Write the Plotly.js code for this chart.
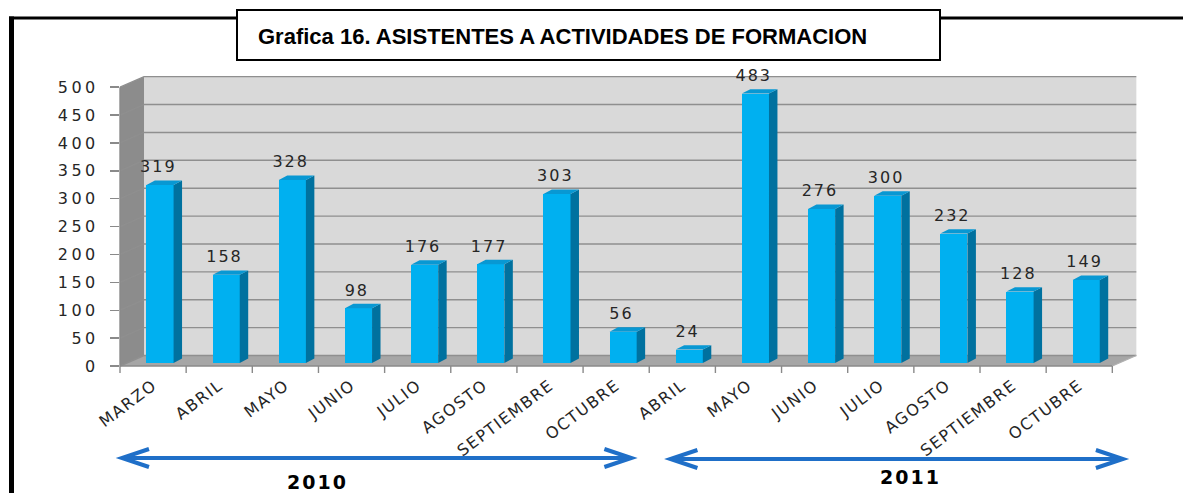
<!DOCTYPE html>
<html>
<head>
<meta charset="utf-8">
<script src="https://cdn.plot.ly/plotly-3.0.1.min.js"></script>
<style>
  html, body { margin: 0; padding: 0; background: #ffffff; }
  #chart { width: 1183px; height: 493px; }
  .ytick text { letter-spacing: 3.5px; }
  .xtick text { letter-spacing: 1.5px; }
  .textpoint text { letter-spacing: 2px; }
  .annotation-text { letter-spacing: 2px; }
</style>
</head>
<body>
<div id="chart"></div>
<script>
// ---- data ----
const categories = ['MARZO','ABRIL','MAYO','JUNIO','JULIO','AGOSTO','SEPTIEMBRE','OCTUBRE',
                    'ABRIL','MAYO','JUNIO','JULIO','AGOSTO','SEPTIEMBRE','OCTUBRE'];
const values = [319, 158, 328, 98, 176, 177, 303, 56, 24, 483, 276, 300, 232, 128, 149];
const yTicks = [0, 50, 100, 150, 200, 250, 300, 350, 400, 450, 500];
const years = ['2010', '2011'];
const chartTitle = 'Grafica 16. ASISTENTES A ACTIVIDADES DE FORMACION';

// ---- geometry (styling of the pseudo-3D frame) ----
const W = 1183, H = 493;
const M = {l: 120, r: 46, t: 76, b: 127};
const plotW = W - M.l - M.r, plotH = H - M.t - M.b;
const n = categories.length;
const DX = 0.363;          // wall depth in category units
const DY = 18.8;           // wall depth in value units
const xr = [-0.5, n - 0.5 + DX + 0.01];
const yr = [0, 520];
const px = d => (d - xr[0]) / (xr[1] - xr[0]);
const py = v => (v - yr[0]) / (yr[1] - yr[0]);
const pxPix = p => (p - M.l) / plotW;           // pixel -> paper (decorations)
const pyPix = p => (H - M.b - p) / plotH;

const BASE = 5.4, BW = 0.41, BOFF = -0.1, SD = 0.128, SE = 8;
const idx = categories.map((c, i) => i);

// side and top faces of the bars
const sideX = [], sideY = [], topX = [], topY = [];
values.forEach((v, i) => {
  const xl = i + BOFF, xrr = i + BOFF + BW;
  sideX.push(xrr, xrr, xrr + SD, xrr + SD, xrr, null);
  sideY.push(BASE, BASE + v, BASE + v + SE, BASE + SE, BASE, null);
  topX.push(xl, xrr, xrr + SD, xl + SD, xl, null);
  topY.push(BASE + v, BASE + v, BASE + v + SE, BASE + v + SE, BASE + v, null);
});

const traces = [
  {type: 'bar', x: idx, y: values, base: BASE, width: BW, offset: BOFF,
   marker: {color: '#00b0f0', line: {width: 0}}, hoverinfo: 'skip', showlegend: false},
  {type: 'scatter', mode: 'lines', x: sideX, y: sideY, fill: 'toself', fillcolor: '#00719f',
   line: {width: 0, color: '#00719f'}, hoverinfo: 'skip', showlegend: false},
  {type: 'scatter', mode: 'lines', x: topX, y: topY, fill: 'toself', fillcolor: '#0898d3',
   line: {width: 0, color: '#0898d3'}, hoverinfo: 'skip', showlegend: false},
  {type: 'scatter', mode: 'text', x: idx.map(i => i + 0.08), y: values.map(v => v + BASE + 30),
   text: values.map(String), textposition: 'middle center', cliponaxis: false,
   textfont: {family: 'DejaVu Sans', size: 16, color: '#262626'},
   hoverinfo: 'skip', showlegend: false}
];

// ---- decorative shapes ----
const shapes = [];
const P = pts => 'M' + pts.map(p => px(p[0]).toFixed(5) + ',' + py(p[1]).toFixed(5)).join('L') + 'Z';
const L = pts => 'M' + pts.map(p => px(p[0]).toFixed(5) + ',' + py(p[1]).toFixed(5)).join('L');
const xEnd = n - 0.5;
// back wall
shapes.push({type: 'path', xref: 'paper', yref: 'paper', layer: 'below',
  path: P([[-0.5 + DX, DY], [xEnd + DX, DY], [xEnd + DX, 500 + DY], [-0.5 + DX, 500 + DY]]),
  fillcolor: '#d9d9d9', line: {width: 0}});
// side wall
shapes.push({type: 'path', xref: 'paper', yref: 'paper', layer: 'below',
  path: P([[-0.5, 0], [-0.5, 500], [-0.5 + DX, 500 + DY], [-0.5 + DX, DY]]),
  fillcolor: '#8c8c8c', line: {width: 0}});
// floor
shapes.push({type: 'path', xref: 'paper', yref: 'paper', layer: 'below',
  path: P([[-0.5, 0], [xEnd, 0], [xEnd + DX, DY], [-0.5 + DX, DY]]),
  fillcolor: '#a6a6a6', line: {width: 0}});
// grid lines (side wall diagonal + back wall horizontal)
yTicks.forEach(t => {
  shapes.push({type: 'path', xref: 'paper', yref: 'paper', layer: 'below',
    path: L([[-0.5, t], [-0.5 + DX, t + DY], [xEnd + DX, t + DY]]),
    line: {color: '#8f8f8f', width: 1.4}});
});
// front axis lines
shapes.push({type: 'line', xref: 'paper', yref: 'paper', layer: 'below',
  x0: px(-0.5), x1: px(-0.5), y0: py(0), y1: py(500), line: {color: '#8a8a8a', width: 1.4}});
shapes.push({type: 'line', xref: 'paper', yref: 'paper', layer: 'below',
  x0: px(-0.5), x1: px(xEnd), y0: py(0), y1: py(0), line: {color: '#8a8a8a', width: 1.4}});
shapes.push({type: 'line', xref: 'paper', yref: 'paper', layer: 'below',
  x0: px(xEnd), x1: px(xEnd + DX), y0: py(0), y1: py(DY), line: {color: '#b0b0b0', width: 1.2}});
// x tick marks at category boundaries
for (let k = 0; k <= n; k++) {
  shapes.push({type: 'line', xref: 'paper', yref: 'paper', layer: 'below',
    x0: px(k - 0.5), x1: px(k - 0.5), y0: py(0), y1: py(0) - 7 / plotH,
    line: {color: '#8a8a8a', width: 1.4}});
}
// outer frame
shapes.push({type: 'line', xref: 'paper', yref: 'paper', layer: 'above',
  x0: pxPix(11.5), x1: pxPix(11.5), y0: pyPix(16.5), y1: pyPix(500), line: {color: '#000', width: 5}});
shapes.push({type: 'line', xref: 'paper', yref: 'paper', layer: 'above',
  x0: pxPix(9), x1: pxPix(1190), y0: pyPix(18), y1: pyPix(18), line: {color: '#000', width: 3}});
// title box
shapes.push({type: 'rect', xref: 'paper', yref: 'paper', layer: 'above',
  x0: pxPix(237), x1: pxPix(940), y0: pyPix(60), y1: pyPix(10),
  fillcolor: '#ffffff', line: {color: '#000', width: 2}});
// year arrows
const arrowColor = '#1f6fc8';
const arrows = [[-0.47, 7.23, 458], [7.82, 14.66, 459]];
arrows.forEach(a => {
  const x0 = px(a[0]), x1 = px(a[1]), y = pyPix(a[2]);
  const hx = 27 / plotW, hy = 9 / plotH;
  shapes.push({type: 'line', xref: 'paper', yref: 'paper', layer: 'above',
    x0: x0 + 0.002, x1: x1 - 0.002, y0: y, y1: y, line: {color: arrowColor, width: 4}});
  shapes.push({type: 'path', xref: 'paper', yref: 'paper', layer: 'above',
    path: `M${x0 + hx},${y + hy}L${x0},${y}L${x0 + hx},${y - hy}`, line: {color: arrowColor, width: 4}});
  shapes.push({type: 'path', xref: 'paper', yref: 'paper', layer: 'above',
    path: `M${x1 - hx},${y + hy}L${x1},${y}L${x1 - hx},${y - hy}`, line: {color: arrowColor, width: 4}});
});

const annotations = [
  {text: years[0], xref: 'paper', yref: 'paper', x: pxPix(317), y: pyPix(482), showarrow: false,
   xanchor: 'center', yanchor: 'middle', font: {family: 'DejaVu Sans', size: 19, color: '#000', weight: 'bold'}},
  {text: years[1], xref: 'paper', yref: 'paper', x: pxPix(910), y: pyPix(477), showarrow: false,
   xanchor: 'center', yanchor: 'middle', font: {family: 'DejaVu Sans', size: 19, color: '#000', weight: 'bold'}}
];

const layout = {
  width: W, height: H,
  margin: M,
  paper_bgcolor: '#ffffff', plot_bgcolor: 'rgba(0,0,0,0)',
  showlegend: false,
  title: {text: chartTitle, xref: 'container', yref: 'container', x: 258 / W, xanchor: 'left',
          y: 1 - 36 / H, yanchor: 'middle',
          font: {family: 'Liberation Sans, Arial, sans-serif', size: 22, color: '#000', weight: 'bold'}},
  xaxis: {range: xr, tickmode: 'array', tickvals: idx, ticktext: categories, tickangle: -37,
          ticks: 'outside', ticklen: 3, tickcolor: 'rgba(0,0,0,0)', showgrid: false, zeroline: false,
          showline: false, fixedrange: true,
          tickfont: {family: 'DejaVu Sans', size: 16, color: '#262626'}},
  yaxis: {range: yr, tickmode: 'array', tickvals: yTicks, ticks: 'outside', ticklen: 9,
          tickcolor: '#8a8a8a', tickwidth: 1.4, showgrid: false, zeroline: false, showline: false,
          ticklabelstandoff: 8, fixedrange: true,
          tickfont: {family: 'DejaVu Sans', size: 16, color: '#262626'}},
  shapes: shapes,
  annotations: annotations,
  bargap: 0
};

Plotly.newPlot('chart', traces, layout, {displayModeBar: false, staticPlot: true});
</script>
</body>
</html>
